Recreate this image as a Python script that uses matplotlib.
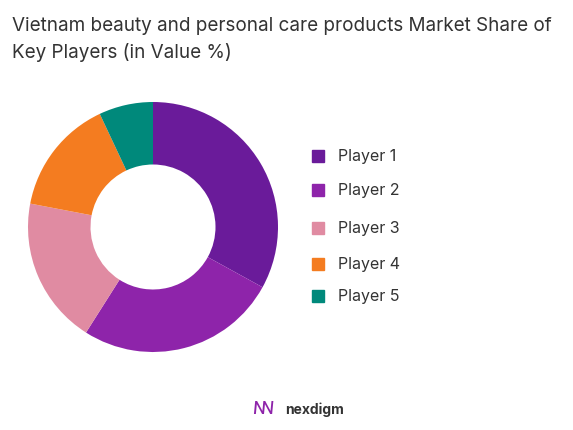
import matplotlib.pyplot as plt
from matplotlib.patches import Rectangle

players = ["Player 1", "Player 2", "Player 3", "Player 4", "Player 5"]
shares = [33, 26, 19, 15, 7]
colors = ["#6A1B9A", "#8E24AA", "#E08BA2", "#F47C20", "#00897B"]
legend_y = [157, 191, 229, 265, 297]  # pixel rows of legend entries

W, H = 573, 431
fig = plt.figure(figsize=(W / 100, H / 100), dpi=100)
plt.rcParams['font.family'] = ['Inter', 'DejaVu Sans']

r = 125
ax = fig.add_axes([(153 - r) / W, 1 - (228 + r) / H, 2 * r / W, 2 * r / H])
ax.pie(shares, colors=colors, startangle=90, counterclock=False,
       wedgeprops=dict(width=0.5, edgecolor='none'))
ax.set_xlim(-1, 1)
ax.set_ylim(-1, 1)
ax.set_aspect('equal')

fig.text(12 / W, 1 - 26 / H, "Vietnam beauty and personal care products Market Share of",
         fontsize=13.6, color="#333333", va='center')
fig.text(12 / W, 1 - 52 / H, "Key Players (in Value %)",
         fontsize=13.6, color="#333333", va='center')

for name, c, y in zip(players, colors, legend_y):
    fig.patches.append(Rectangle((312 / W, 1 - (y + 6) / H), 12 / W, 12 / H,
                                 transform=fig.transFigure, color=c))
    fig.text(338 / W, 1 - y / H, name, fontsize=11.5, color="#333333", va='center')

fig.text(263 / W, 1 - 410 / H, "ꟿ", fontsize=13, color="#8E24AA", va='center', ha='center')
fig.text(285 / W, 1 - 410 / H, "nexdigm", fontsize=10, color="#333333", va='center', weight='bold')

fig.savefig("out.png", dpi=100, facecolor='white')
